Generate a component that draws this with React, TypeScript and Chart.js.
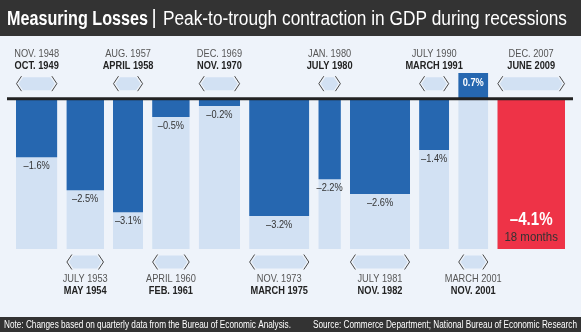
import React, { useEffect, useRef } from "react";
import { Chart, registerables } from "chart.js";

Chart.register(...registerables);

const PEAKS = ["NOV. 1948", "JULY 1953", "AUG. 1957", "APRIL 1960", "DEC. 1969", "NOV. 1973", "JAN. 1980", "JULY 1981", "JULY 1990", "MARCH 2001", "DEC. 2007"];
const TROUGHS = ["OCT. 1949", "MAY 1954", "APRIL 1958", "FEB. 1961", "NOV. 1970", "MARCH 1975", "JULY 1980", "NOV. 1982", "MARCH 1991", "NOV. 2001", "JUNE 2009"];
const MONTHS = [11, 10, 8, 10, 11, 16, 6, 16, 8, 8, 18];
const CHANGES = [-1.6, -2.5, -3.1, -0.5, -0.2, -3.2, -2.2, -2.6, -1.4, 0.7, -4.1];

const TITLE_BOLD = "Measuring Losses";
const TITLE_REST = "Peak-to-trough contraction in GDP during recessions";
const NOTE = "Note: Changes based on quarterly data from the Bureau of Economic Analysis.";
const SOURCE = "Source: Commerce Department; National Bureau of Economic Research";

const GAP = 2.4; // gap between recessions, in month units
const LAST = MONTHS.length - 1;

const STARTS: number[] = [];
MONTHS.reduce((acc, m) => {
  STARTS.push(acc);
  return acc + m + GAP;
}, 0);
const TOTAL = STARTS[LAST] + MONTHS[LAST];
const Y_MIN = Math.min(...CHANGES);
const Y_MAX = Math.max(...CHANGES);

const fmt = (v: number) => (v < 0 ? "\u2013" + Math.abs(v).toFixed(1) : v.toFixed(1)) + "%";

const FONT = '"Liberation Sans", Arial, sans-serif';
const NARROW = 0.84;
const BG = "#eef3fa";
const DARK = "#333333";
const LIGHT = "#d2e1f3";
const BLUE = "#2667b0";
const RED = "#ee3347";

const rect = (s: number, e: number, v: number) => [
  { x: s, y: 0 },
  { x: s, y: v },
  { x: e, y: v },
  { x: e, y: 0 },
];

function txt(
  ctx: CanvasRenderingContext2D,
  s: string,
  x: number,
  y: number,
  font: string,
  color: string,
  align: CanvasTextAlign = "center",
  sx = NARROW,
  fitWidth = 0
) {
  ctx.save();
  ctx.font = font;
  ctx.fillStyle = color;
  ctx.textAlign = align;
  ctx.textBaseline = "middle";
  let k = sx;
  if (fitWidth > 0) k = fitWidth / ctx.measureText(s).width;
  ctx.translate(x, y);
  ctx.scale(k, 1);
  ctx.fillText(s, 0, 0);
  ctx.restore();
}

function drawWidget(ctx: CanvasRenderingContext2D, xs: number, xe: number, cy: number) {
  ctx.save();
  ctx.fillStyle = LIGHT;
  ctx.beginPath();
  ctx.moveTo(xs + 2.5, cy);
  ctx.lineTo(xs + 7, cy - 6.5);
  ctx.lineTo(xe - 7, cy - 6.5);
  ctx.lineTo(xe - 2.5, cy);
  ctx.lineTo(xe - 7, cy + 6.5);
  ctx.lineTo(xs + 7, cy + 6.5);
  ctx.closePath();
  ctx.fill();
  ctx.strokeStyle = "#4a4a4a";
  ctx.lineWidth = 1;
  ctx.beginPath();
  ctx.moveTo(xs + 5.5, cy - 7.5);
  ctx.lineTo(xs + 0.5, cy);
  ctx.lineTo(xs + 5.5, cy + 7.5);
  ctx.moveTo(xe - 5.5, cy - 7.5);
  ctx.lineTo(xe - 0.5, cy);
  ctx.lineTo(xe - 5.5, cy + 7.5);
  ctx.stroke();
  ctx.restore();
}

const decorPlugin = {
  id: "decor",
  beforeDraw(chart: any) {
    const { ctx, width, height } = chart;
    ctx.save();
    ctx.fillStyle = BG;
    ctx.fillRect(0, 0, width, height);
    ctx.fillStyle = DARK;
    ctx.fillRect(0, 0, width, 36);
    ctx.fillRect(0, 317, width, height - 317);
    ctx.restore();
    // title
    txt(ctx, TITLE_BOLD, 7, 19, `bold 20px ${FONT}`, "#ffffff", "left", 1, 141);
    txt(ctx, "|", 154, 18.5, `20px ${FONT}`, "#ffffff", "center", 1);
    txt(ctx, TITLE_REST, 163, 19, `20px ${FONT}`, "#ffffff", "left", 1, 404);
    // footer
    txt(ctx, NOTE, 4, 325, `10px ${FONT}`, "#ffffff", "left", 1, 287);
    txt(ctx, SOURCE, width - 4, 325, `10px ${FONT}`, "#ffffff", "right", 1, 264);
  },
  afterDatasetsDraw(chart: any) {
    const { ctx, chartArea } = chart;
    const xs = chart.scales.x;
    const ys = chart.scales.y;
    const zero = ys.getPixelForValue(0);
    const bottom = ys.getPixelForValue(Y_MIN);
    ctx.save();
    ctx.strokeStyle = "#222222";
    ctx.lineWidth = 3;
    ctx.beginPath();
    ctx.moveTo(chartArea.left - 9, zero);
    ctx.lineTo(chartArea.right + 8, zero);
    ctx.stroke();
    ctx.restore();

    MONTHS.forEach((m, i) => {
      const x0 = xs.getPixelForValue(STARTS[i]);
      const x1 = xs.getPixelForValue(STARTS[i] + m);
      const cx = (x0 + x1) / 2;
      const above = i % 2 === 0;
      let wy: number, py: number, ty: number;
      if (above) {
        wy = zero - 15;
        ty = zero - 33;
        py = zero - 45;
      } else {
        wy = bottom + 13;
        py = bottom + 30;
        ty = bottom + 42;
      }
      drawWidget(ctx, x0, x1, wy);
      txt(ctx, PEAKS[i], cx, py, `11px ${FONT}`, "#555555");
      txt(ctx, TROUGHS[i], cx, ty, `bold 11px ${FONT}`, "#222222");

      const v = CHANGES[i];
      const vy = ys.getPixelForValue(v);
      if (i === LAST) {
        txt(ctx, fmt(v), cx, bottom - 29, `bold 18px ${FONT}`, "#ffffff", "center", 0.84);
        txt(ctx, `${m} months`, cx, bottom - 12, `13px ${FONT}`, "#333333", "center", 0.88);
      } else if (v > 0) {
        txt(ctx, fmt(v), cx, (vy + zero) / 2 - 3, `bold 11px ${FONT}`, "#ffffff");
      } else {
        txt(ctx, fmt(v), cx, vy + 9, `11px ${FONT}`, "#333333");
      }
    });
  },
};

export default function App() {
  const ref = useRef<HTMLCanvasElement>(null);
  useEffect(() => {
    if (!ref.current) return;
    const light = MONTHS.map((m, i) => ({
      type: "line" as const,
      data: rect(STARTS[i], STARTS[i] + m, Y_MIN),
      backgroundColor: LIGHT,
      borderColor: "rgba(0,0,0,0)",
      borderWidth: 0,
      pointRadius: 0,
      fill: "origin",
      order: 2,
    }));
    const dark = MONTHS.map((m, i) => ({
      type: "line" as const,
      data: rect(STARTS[i], STARTS[i] + m, CHANGES[i]),
      backgroundColor: i === LAST ? RED : BLUE,
      borderColor: "rgba(0,0,0,0)",
      borderWidth: 0,
      pointRadius: 0,
      fill: "origin",
      order: 1,
    }));
    const chart = new Chart(ref.current, {
      type: "line",
      data: { datasets: [...dark, ...light] as any },
      options: {
        animation: false,
        responsive: false,
        events: [],
        layout: { padding: { left: 16, right: 16, top: 73, bottom: 83 } },
        scales: {
          x: { type: "linear", min: 0, max: TOTAL, display: false },
          y: { type: "linear", min: Y_MIN, max: Y_MAX, display: false },
        },
        plugins: { legend: { display: false }, tooltip: { enabled: false }, title: { display: false } },
      },
      plugins: [decorPlugin],
    });
    return () => chart.destroy();
  }, []);
  return (
    <div style={{ position: "absolute", left: 0, top: 0, width: 581, height: 332 }}>
      <canvas ref={ref} width={581} height={332} style={{ display: "block" }} />
    </div>
  );
}
